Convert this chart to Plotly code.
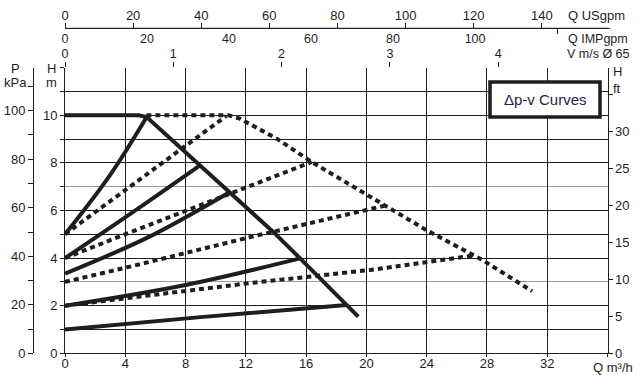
import plotly.graph_objects as go

# ---------------- data (Q in m3/h, H in m) ----------------
max_solid_q = [0, 4.9, 5.42, 8.96, 10.95, 13.82, 15.6, 18.69, 19.46]
max_solid_h = [10, 10, 9.93, 7.9, 6.78, 5.1, 3.99, 2.03, 1.54]

solid_a_q = [0, 3.0, 5.42]
solid_a_h = [5.0, 7.5, 9.93]
solid_b_q = [0, 4.31, 8.96]
solid_b_h = [4.0, 5.85, 7.9]
solid_c_q = [0, 5.5, 10.95]
solid_c_h = [3.35, 4.87, 6.78]
solid_d_q = [0, 8.0, 15.6]
solid_d_h = [2.0, 2.87, 3.99]
solid_e_q = [0, 9.0, 18.69]
solid_e_h = [1.0, 1.52, 2.03]

max_dot_q = [5.4, 10.84, 11.6, 14.05, 16.37, 20.0, 24.0, 27.7, 31.0]
max_dot_h = [10, 10, 9.86, 9.02, 8.04, 6.67, 5.17, 3.92, 2.61]

dot_1_q = [0, 4.31, 10.7]
dot_1_h = [5.0, 7.0, 9.97]
dot_2_q = [0, 4.31, 16.37]
dot_2_h = [4.0, 5.08, 8.04]
dot_3_q = [0, 4.31, 12.28, 21.2]
dot_3_h = [3.0, 3.64, 4.88, 6.2]
dot_4_q = [0, 4.31, 12.28, 20.24, 27.0]
dot_4_h = [2.0, 2.34, 2.95, 3.5, 4.1]

# tick labels
q_ticks = [0, 4, 8, 12, 16, 20, 24, 28, 32, 36]
q_text = ["0", "4", "8", "12", "16", "20", "24", "28", "32", ""]
h_major = [0, 1, 2, 4, 5, 6, 8, 9, 10, 11]
h_major_text = ["0", "", "2", "4", "", "6", "8", "", "10", ""]
h_minor = [3, 7, 12]
p_ticks = [0, 10, 20, 30, 40, 50, 60, 70, 80, 90, 100, 110]
p_text = ["0", "", "20", "", "40", "", "60", "", "80", "", "100", ""]
ft_ticks = [0, 5, 10, 15, 20, 25, 30, 35]
ft_text = ["0", "5", "10", "15", "20", "25", "30", ""]
v_ticks = [0, 1, 2, 3, 4]
us_ticks = [0, 20, 40, 60, 80, 100, 120, 140]
imp_ticks = [0, 20, 40, 60, 80, 100]

# ---------------- layout helpers ----------------
W, H = 642, 375
def px(x):
    return x / W
def py(y):
    return 1 - y / H

INK = "#1e1e1e"
FONT = "Liberation Sans, Arial, sans-serif"

fig = go.Figure()

solid_sets = [(max_solid_q, max_solid_h, "linear"), (solid_a_q, solid_a_h, "spline"),
              (solid_b_q, solid_b_h, "spline"), (solid_c_q, solid_c_h, "spline"),
              (solid_d_q, solid_d_h, "spline"), (solid_e_q, solid_e_h, "spline")]
dot_sets = [(max_dot_q, max_dot_h), (dot_1_q, dot_1_h), (dot_2_q, dot_2_h),
            (dot_3_q, dot_3_h), (dot_4_q, dot_4_h)]

for q, h in dot_sets:
    fig.add_trace(go.Scatter(x=q, y=h, mode="lines", line=dict(color=INK, width=4, dash="5px,4px"),
                             showlegend=False, hoverinfo="skip"))
for q, h, shape in solid_sets:
    fig.add_trace(go.Scatter(x=q, y=h, mode="lines", line=dict(color=INK, width=4, shape=shape),
                             showlegend=False, hoverinfo="skip"))

# empty traces so that every secondary axis gets drawn
for xa, ya in [("x", "y2"), ("x", "y3"), ("x2", "y"), ("x3", "y"), ("x4", "y")]:
    fig.add_trace(go.Scatter(x=[], y=[], xaxis=xa, yaxis=ya, mode="lines",
                             showlegend=False, hoverinfo="skip"))

xdom = [px(65), px(607.5)]
ydom = [py(353.3), py(67.7)]
tick_font = dict(family=FONT, size=13, color=INK)
small_font = dict(family=FONT, size=12.5, color=INK)

fig.update_layout(
    width=W, height=H,
    margin=dict(l=0, r=0, t=0, b=0),
    paper_bgcolor="white", plot_bgcolor="white",
    font=dict(family=FONT, size=13, color=INK),
    showlegend=False,
    xaxis=dict(domain=xdom, range=[0, 36], tickmode="array", tickvals=q_ticks, ticktext=q_text,
               showgrid=True, gridcolor=INK, gridwidth=1, zeroline=False,
               showline=True, linecolor=INK, linewidth=1,
               ticks="outside", ticklen=3, tickcolor=INK, tickfont=tick_font, automargin=False,
               ticklabelstandoff=-5),
    yaxis=dict(domain=ydom, range=[0, 12], tickmode="array", tickvals=h_major, ticktext=h_major_text,
               showgrid=True, gridcolor=INK, gridwidth=1, zeroline=False,
               showline=True, linecolor=INK, linewidth=1,
               ticks="outside", ticklen=4, tickcolor=INK, tickfont=tick_font, automargin=False,
               minor=dict(tickmode="array", tickvals=h_minor, showgrid=True, gridcolor="#9a9a9a",
                          gridwidth=1.2, ticks="outside", ticklen=4, tickcolor=INK)),
    yaxis2=dict(overlaying="y", anchor="free", position=px(33), side="left",
                range=[0, 12 * 9.81], tickmode="array", tickvals=p_ticks, ticktext=p_text,
                showgrid=False, zeroline=False, showline=True, linecolor=INK, linewidth=1,
                ticks="outside", ticklen=5, tickcolor=INK, tickfont=tick_font, automargin=False),
    yaxis3=dict(overlaying="y", anchor="x", side="right",
                range=[0, 38.6], tickmode="array", tickvals=ft_ticks, ticktext=ft_text,
                showgrid=False, zeroline=False, showline=True, linecolor=INK, linewidth=1,
                ticks="outside", ticklen=4, tickcolor=INK, tickfont=tick_font, automargin=False),
    xaxis2=dict(overlaying="x", anchor="y", side="top", range=[0, 5.01],
                tickmode="array", tickvals=v_ticks, showgrid=False, zeroline=False, showline=False,
                ticks="outside", ticklen=5, tickcolor=INK, tickfont=small_font, automargin=False,
                ticklabelstandoff=-1),
    xaxis3=dict(overlaying="x", anchor="free", position=py(28.3), side="top", range=[0, 159.3],
                tickmode="array", tickvals=us_ticks, showgrid=False, zeroline=False,
                showline=True, linecolor=INK, linewidth=1,
                ticks="outside", ticklen=5, tickcolor=INK, tickfont=tick_font, automargin=False,
                ticklabelstandoff=-2),
    xaxis4=dict(overlaying="x", anchor="free", position=py(28.3), side="bottom", range=[0, 132.3],
                tickmode="array", tickvals=imp_ticks, showgrid=False, zeroline=False, showline=False,
                ticks="", tickfont=small_font, automargin=False, ticklabelstandoff=1,
                minor=dict(tickmode="array", tickvals=[120], ticks="outside", ticklen=5, tickcolor=INK)),
)

# axis line of the USgpm scale
fig.add_shape(type="line", xref="paper", yref="paper", x0=px(65), x1=px(610), y0=py(28.3), y1=py(28.3),
              line=dict(color=INK, width=1))

def note(text, x, y, xanchor="center", size=13, color=INK):
    fig.add_annotation(text=text, xref="paper", yref="paper", x=px(x), y=py(y),
                       xanchor=xanchor, yanchor="middle", showarrow=False,
                       font=dict(family=FONT, size=size, color=color))

note("Q USgpm", 566, 15, "left")
note("Q IMPgpm", 566, 38.5, "left", size=12.5)
note("V m/s Ø 65", 565, 54.5, "left", size=12.5)
note("P", 15, 68)
note("kPa", 15, 82)
note("H", 51, 68)
note("m", 51, 82)
note("H", 617, 72)
note("ft", 617, 88)
note("Q m³/h", 613, 367)

fig.add_shape(type="rect", xref="paper", yref="paper", x0=px(490), x1=px(600), y0=py(117), y1=py(82),
              line=dict(color=INK, width=3.5), fillcolor="white", layer="above")
note("Δp-v Curves", 545, 100, size=15, color="#1f2148")

fig.write_html("out.html", config={"displayModeBar": False},
               post_script="document.body.style.margin='0';")
